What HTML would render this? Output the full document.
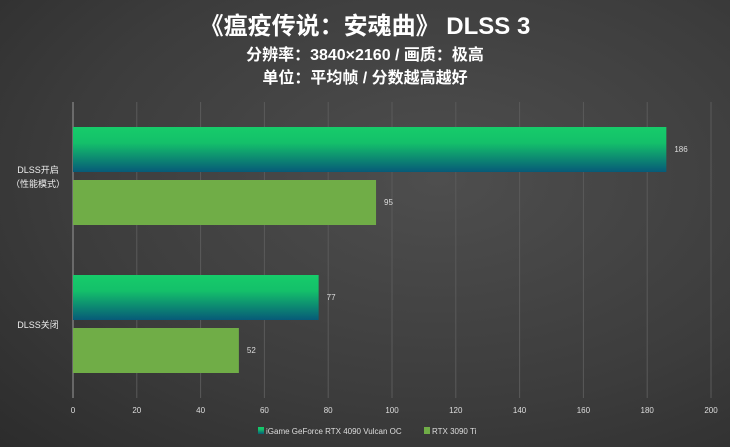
<!DOCTYPE html>
<html><head><meta charset="utf-8"><style>
body{margin:0;width:730px;height:447px;overflow:hidden;background:radial-gradient(ellipse at 60% 40%,#4e4e4e 0%,#3c3c3c 60%,#2c2c2c 100%);font-family:"Liberation Sans","Noto Sans CJK SC",sans-serif;color:#fff}
svg{position:absolute;left:0;top:0}
</style></head><body>
<svg width="730" height="447">
<defs><linearGradient id="g1" x1="0" y1="0" x2="0" y2="1"><stop offset="0" stop-color="#16cc6a"/><stop offset="0.35" stop-color="#14c06a"/><stop offset="1" stop-color="#075a78"/></linearGradient></defs>
<text x="365" y="34" text-anchor="middle" font-size="24" font-weight="bold" fill="#fff">《瘟疫传说：安魂曲》 DLSS 3</text>
<text x="365" y="60" text-anchor="middle" font-size="16" font-weight="bold" fill="#fff">分辨率：3840×2160 / 画质：极高</text>
<text x="365" y="83" text-anchor="middle" font-size="16" font-weight="bold" fill="#fff">单位：平均帧 / 分数越高越好</text>
<g id="grid"></g><g id="bars"></g><g id="labels"></g>
<g>
<rect x="258" y="427" width="6" height="7" fill="url(#g1)"/>
<text x="266" y="434" font-size="8" fill="#ddd">iGame GeForce RTX 4090 Vulcan OC</text>
<rect x="424" y="427" width="6" height="7" fill="#70ad47"/>
<text x="432" y="434" font-size="8" fill="#ddd">RTX 3090 Ti</text>
</g>
</svg>
<script>
const categories=["DLSS开启|（性能模式）","DLSS关闭"];
const series4090=[186,77];
const series3090ti=[95,52];
const ticks=[0,20,40,60,80,100,120,140,160,180,200];
const NS="http://www.w3.org/2000/svg";
const plotX0=73,plotX1=711,plotTop=102,plotBot=398;
const xs=v=>plotX0+(plotX1-plotX0)*v/200;
function mk(t,a,p){const e=document.createElementNS(NS,t);for(const k in a)e.setAttribute(k,a[k]);p.appendChild(e);return e;}
const gridG=document.getElementById('grid'),barsG=document.getElementById('bars'),labsG=document.getElementById('labels');
ticks.forEach(t=>{
 const l=mk('line',{x1:xs(t),x2:xs(t),y1:plotTop,y2:plotBot,stroke:t==0?'#9a9a9a':'#5a5a5a','stroke-width':1},gridG);
 
 
 const tx=mk('text',{x:xs(t),y:413,'text-anchor':'middle','font-size':8,fill:'#ddd'},labsG);
 tx.textContent=t;
 
 
});
const bandH=(plotBot-plotTop)/categories.length;
categories.forEach((c,i)=>{
 const y=plotTop+bandH*i+25;
 [[series4090[i],'url(#g1)','4090'],[series3090ti[i],'#70ad47','3090ti']].forEach((s,j)=>{
  const by=y+j*53;
  const r=mk('rect',{x:plotX0,y:by,width:xs(s[0])-plotX0,height:45,fill:s[1]},barsG);
  
  
  const v=mk('text',{x:xs(s[0])+8,y:by+25,'font-size':8,fill:'#ddd'},labsG);
  v.textContent=s[0];
  
  
 });
 const parts=c.split('|');
 const cy=y+49;
 parts.forEach((p,k)=>{
  const t=mk('text',{x:38,y:cy+(k-(parts.length-1)/2)*14+4,'text-anchor':'middle','font-size':9,fill:'#eee'},labsG);
  t.textContent=p;
  
  
 });
});
</script>
</body></html>
